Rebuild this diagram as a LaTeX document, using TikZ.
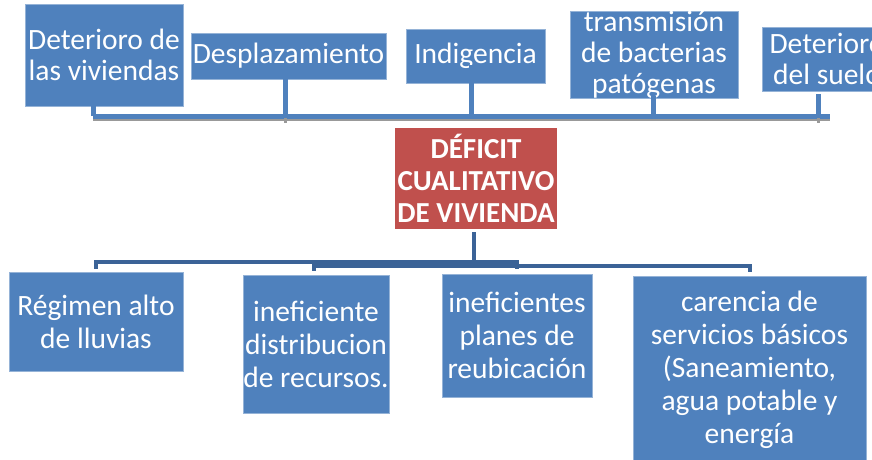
\documentclass[tikz,border=0pt]{standalone}
\usepackage{fontspec}
\setmainfont{Carlito}
\usetikzlibrary{calc}

\definecolor{boxblue}{HTML}{4F81BD}
\definecolor{boxred}{HTML}{C0504D}
\definecolor{treeblue}{HTML}{3B6397}

\tikzset{
  cause/.style={fill=boxblue, draw=boxblue!60!white, line width=0.6pt, text=white, inner sep=0pt,
    align=center, font=\fontsize{29.5}{31}\selectfont},
  effect/.style={cause, font=\fontsize{29.5}{33}\selectfont},
  core/.style={fill=boxred, text=white, inner sep=0pt, align=center,
    font=\fontsize{29}{32}\selectfont\bfseries},
  bar/.style={boxblue, line width=5pt},
  barshadow/.style={gray!80, line width=3pt},
  tree/.style={treeblue, line width=4pt}
}

\begin{document}
\begin{tikzpicture}[x=1pt, y=-1pt]
  \useasboundingbox (0,0) rectangle (872,459);
  \clip (0,0) rectangle (872,459);

  % Top boxes
  \node[cause, minimum width=158, minimum height=102] (t1) at (104,55) {Deterioro de\\las viviendas};
  \node[cause, minimum width=195, minimum height=46] (t2) at (288.5,56) {Desplazamiento};
  \node[cause, minimum width=139, minimum height=54] (t3) at (475.5,56) {Indigencia};
  \node[cause, minimum width=168, minimum height=86] (t4) at (654,55) {transmisión\\de bacterias\\patógenas};
  \node[cause, minimum width=130, minimum height=64] (t5) at (827,59) {Deterioro\\del suelo};

  % Top bar
  \coordinate (barL) at (93,116);
  \coordinate (barR) at (830,116);
  \draw[barshadow] ($(barL)+(0,3)$) -- ($(barR)+(0,3)$);
  \draw[bar] (barL) -- (barR);
  \draw[bar] (t1.south -| barL) -- (barL);
  \coordinate (bar2) at (285,123);
  \coordinate (bar3) at (471,116);
  \coordinate (bar4) at (653,116);
  \coordinate (bar5) at (818,123);
  \draw[barshadow] ($(t2.south -| bar2)+(0,4)$) -- (bar2);
  \draw[bar] (t2.south -| bar2) -- ($(bar2)+(0,-5)$);
  \draw[bar] ($(t3.south -| bar3)+(0,-18)$) -- (bar3);
  \draw[bar] ($(t4.south -| bar4)+(0,-3)$) -- (bar4);
  \draw[barshadow] ($(t5.south -| bar5)+(0,4)$) -- (bar5);
  \draw[bar] ($(t5.south -| bar5)+(0,3)$) -- ($(bar5)+(0,-5)$);

  % Central box
  \node[core, minimum width=162, minimum height=101] (red) at (476,178.5) {DÉFICIT\\CUALITATIVO\\DE VIVIENDA};

  % Bottom boxes
  \node[effect, minimum width=174, minimum height=99] (b1) at (96,321.5) {Régimen alto\\de lluvias};
  \node[effect, minimum width=146, minimum height=138] (b2) at (316,344) {ineficiente\\distribucion\\de recursos.};
  \node[effect, minimum width=150, minimum height=123] (b3) at (517,335.5) {ineficientes\\planes de\\reubicación};
  \node[effect, minimum width=233, minimum height=188] (b4) at (749.5,370) {carencia de\\servicios básicos\\(Saneamiento,\\agua potable y\\energía};

  % Tree
  \coordinate (hubA) at (474,262);
  \coordinate (hubB) at (474,266);
  \draw[tree] ($(red.south)+(-2,3)$) -- ($(hubB)+(0,2)$);
  \draw[tree] ($(b1.north)+(0,-3)$) |- (hubA) -| ($(b3.north)+(0,-5)$);
  \draw[tree] ($(b2.north)+(-2,-4)$) |- (hubB) -| ($(b4.north)+(0,-4)$);
\end{tikzpicture}
\end{document}
